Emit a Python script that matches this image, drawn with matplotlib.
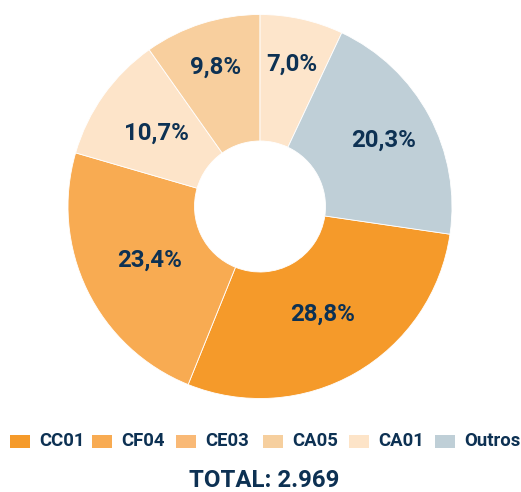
import matplotlib.pyplot as plt
from matplotlib.patches import Rectangle
import numpy as np

# participação por código
categorias = ["CC01", "CF04", "CE03", "CA05", "CA01", "Outros"]
percentuais = [28.8, 23.4, 10.7, 9.8, 7.0, 20.3]
total = "2.969"

cores_fatias = ["#F59A2A", "#F8AB52", "#FDE4C9", "#F8CF9E", "#FDE5CB", "#BFCFD7"]
cores_legenda = ["#F59A2A", "#F8AB52", "#F9B976", "#F6CF9E", "#FDE4C8", "#BFCFD7"]
azul = "#0D3153"

# distancia do rotulo ao centro (fracao do raio)
dist_rotulo = [0.65, 0.64, 0.66, 0.76, 0.76, 0.73]

plt.rcParams["font.family"] = ["Roboto", "DejaVu Sans"]

fig = plt.figure(figsize=(5.21, 4.92), dpi=100)
W, H = 521, 492
cx, cy, R = 260, 206.5, 192
ax = fig.add_axes([(cx - R) / W, (H - cy - R) / H, 2 * R / W, 2 * R / H])

wedges, _ = ax.pie(
    percentuais,
    colors=cores_fatias,
    startangle=-8.3,
    counterclock=False,
    radius=1,
    wedgeprops=dict(width=1 - 65.5 / 192, edgecolor="white", linewidth=0.6),
)
ax.set_xlim(-1, 1)
ax.set_ylim(-1, 1)
ax.set_aspect("equal")
ax.axis("off")

for w, p, d in zip(wedges, percentuais, dist_rotulo):
    ang = np.deg2rad((w.theta1 + w.theta2) / 2)
    txt = f"{p:.1f}%".replace(".", ",")
    ax.text(d * np.cos(ang), d * np.sin(ang), txt, ha="center", va="center",
            fontsize=17.3, fontweight="bold", color=azul)

# legenda manual
x_caixas = [10, 92, 176, 263, 349, 435]
y_leg = 441.5
for x, nome, cor in zip(x_caixas, categorias, cores_legenda):
    fig.patches.append(Rectangle((x / W, (H - y_leg - 6.5) / H), 20 / W, 13 / H,
                                 transform=fig.transFigure, facecolor=cor, edgecolor="none"))
    fig.text((x + 29) / W, (H - y_leg) / H, nome, ha="left", va="center",
             fontsize=13.3, fontweight="bold", color=azul)

fig.text(264.5 / W, (H - 480.5) / H, f"TOTAL: {total}", ha="center", va="center",
         fontsize=17.3, fontweight="bold", color=azul)

fig.savefig("out.png", dpi=100, facecolor="white")
